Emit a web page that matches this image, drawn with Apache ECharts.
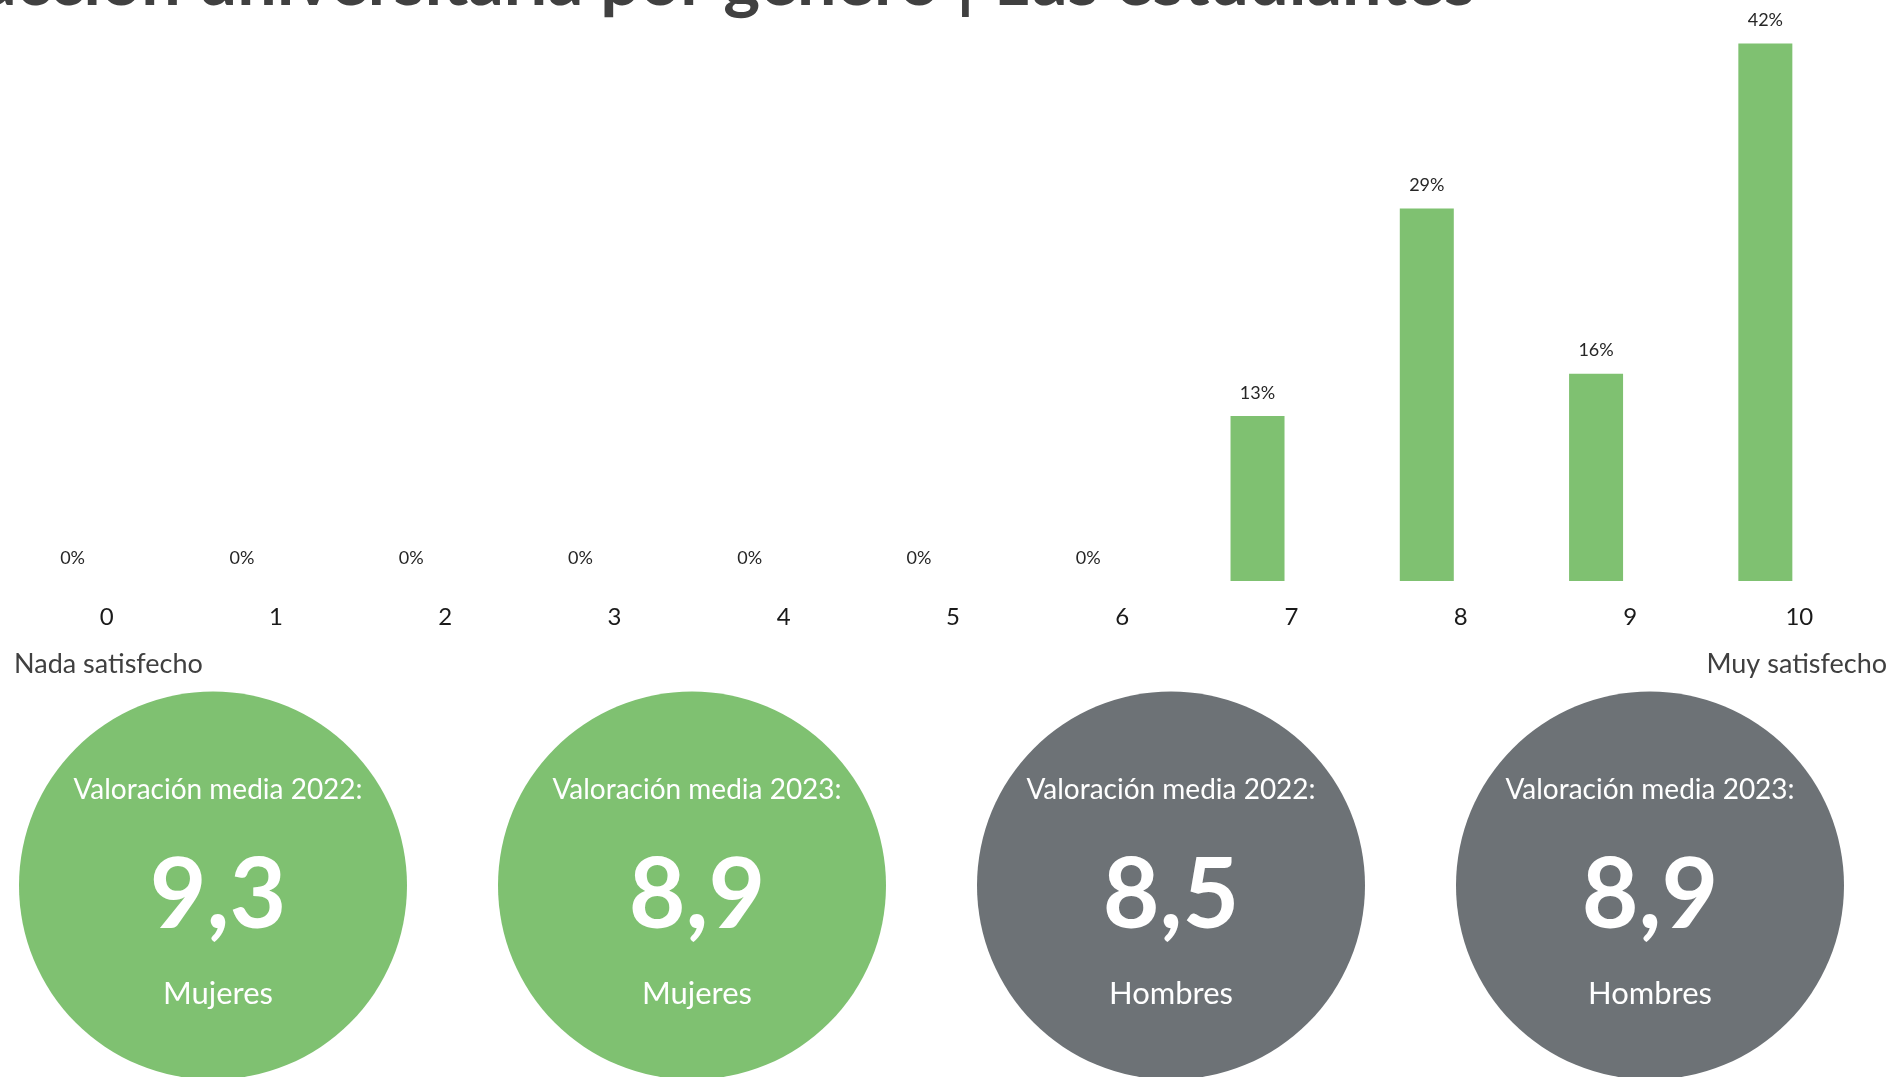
<!DOCTYPE html>
<html>
<head>
<meta charset="utf-8">
<script src="https://cdn.jsdelivr.net/npm/echarts@6/dist/echarts.min.js"></script>
<style>
html,body{margin:0;padding:0;background:#fff;}
#c{width:1893px;height:1077px;}
</style>
</head>
<body>
<div id="c"></div>
<script>
// ---- data ----
const titleText = 'Satisfacción universitaria por género | 1as estudiantes';
const scoreCategories = ['0','1','2','3','4','5','6','7','8','9','10'];
const sharePct = [0, 0, 0, 0, 0, 0, 0, 12.9, 29.1, 16.2, 42.0];
const leftEndLabel = 'Nada satisfecho';
const rightEndLabel = 'Muy satisfecho';
const kpiHeaders = ['Valoración media 2022:', 'Valoración media 2023:', 'Valoración media 2022:', 'Valoración media 2023:'];
const kpiValues = ['9,3', '8,9', '8,5', '8,9'];
const kpiGroups = ['Mujeres', 'Mujeres', 'Hombres', 'Hombres'];

const GREEN = '#7FC171';
const GREY = '#6D7276';
const FONT = 'Lato, "Open Sans", sans-serif';

const chart = echarts.init(document.getElementById('c'), null, {renderer: 'canvas'});

const kpiData = kpiValues.map((v, i) => ({
  value: [i, 0.5],
  itemStyle: {color: kpiGroups[i] === 'Mujeres' ? GREEN : GREY, opacity: 1},
  label: {
    offset: [kpiGroups[i] === 'Mujeres' ? 5 : 0, 1],
    formatter: '{a|' + kpiHeaders[i] + '}\n{b|' + v + '}\n{c|' + kpiGroups[i] + '}'
  }
}));

chart.setOption({
  animation: false,
  backgroundColor: '#ffffff',
  textStyle: {fontFamily: FONT},
  graphic: [
    {type: 'text', right: 1893 - 1475, top: -53,
     style: {text: titleText, font: 'bold 70px ' + FONT, fill: '#404040'}},
    {type: 'text', left: 14, top: 650.5,
     style: {text: leftEndLabel, font: '27px ' + FONT, fill: '#404040'}},
    {type: 'text', right: 6, top: 650.5,
     style: {text: rightEndLabel, font: '27px ' + FONT, fill: '#404040'}}
  ],
  grid: [
    {left: 22, width: 1862, top: 5, bottom: 496, containLabel: false},
    {left: 213, right: 243, top: 875.6, height: 20}
  ],
  xAxis: [
    {type: 'category', data: scoreCategories, gridIndex: 0,
     axisLine: {show: false}, axisTick: {show: false},
     axisLabel: {fontSize: 24, color: '#1a1a1a', margin: 24, fontFamily: FONT}},
    {type: 'category', data: kpiGroups.map((g, i) => g + i), gridIndex: 1, boundaryGap: false, show: false}
  ],
  yAxis: [
    {type: 'value', min: 0, max: 45, gridIndex: 0, show: false, splitLine: {show: false}},
    {type: 'value', min: 0, max: 1, gridIndex: 1, show: false, splitLine: {show: false}}
  ],
  series: [
    {
      type: 'bar', name: 'Estudiantes', xAxisIndex: 0, yAxisIndex: 0,
      data: sharePct, barWidth: 54, barGap: '26%',
      itemStyle: {color: GREEN},
      label: {show: true, position: 'top', distance: 14, fontSize: 18, color: '#262626', fontFamily: FONT,
              formatter: p => Math.round(p.value) + '%'}
    },
    {
      type: 'bar', name: '', xAxisIndex: 0, yAxisIndex: 0,
      data: sharePct.map(() => '-'), barWidth: 54,
      itemStyle: {color: 'transparent'}, silent: true
    },
    {
      type: 'scatter', xAxisIndex: 1, yAxisIndex: 1, clip: false,
      symbol: 'circle', symbolSize: 388, data: kpiData, silent: true,
      itemStyle: {opacity: 1},
      emphasis: {disabled: true},
      label: {
        show: true, position: 'inside', color: '#fff',
        rich: {
          a: {fontSize: 28, color: '#fff', fontFamily: FONT, lineHeight: 90},
          b: {fontSize: 98, fontWeight: 'bold', color: '#fff', fontFamily: FONT, lineHeight: 124},
          c: {fontSize: 31, color: '#fff', fontFamily: FONT, lineHeight: 70}
        }
      }
    }
  ]
});
</script>
</body>
</html>
